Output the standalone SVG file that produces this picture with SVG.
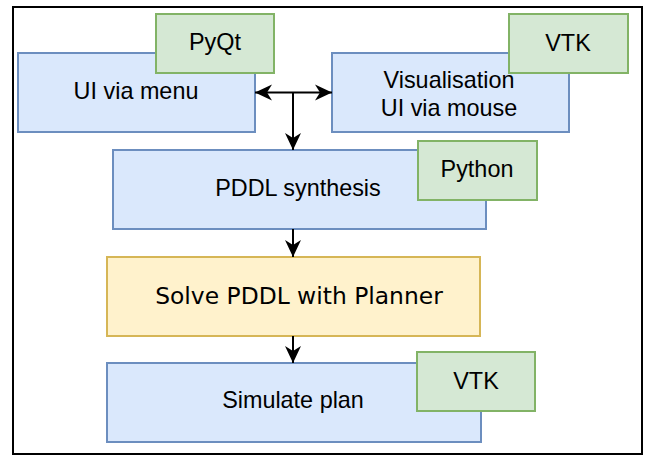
<svg xmlns="http://www.w3.org/2000/svg" width="646" height="456" viewBox="0 0 646 456">
<style>
.t{font-family:"Liberation Sans",Arial,sans-serif;font-size:23.4px;fill:#000;text-anchor:middle}
.d{font-family:"DejaVu Sans",Verdana,sans-serif;font-size:23.4px;fill:#000;text-anchor:middle}
.blue{fill:#dae8fc;stroke:#6c8ebf;stroke-width:2}
.green{fill:#d5e8d4;stroke:#82b366;stroke-width:2}
.yellow{fill:#fff2cc;stroke:#d6b656;stroke-width:2}
.edge{fill:none;stroke:#000;stroke-width:2}
</style>
<defs>
<marker id="arr" markerUnits="userSpaceOnUse" viewBox="-18 -9 19 18" refX="0" refY="0" markerWidth="19" markerHeight="18" orient="auto-start-reverse">
<path d="M0,0 L-17,-8 L-12,0 L-17,8 Z" fill="#000"/>
</marker>
</defs>
<rect x="13" y="7" width="629" height="447" fill="#fff" stroke="#000" stroke-width="2"/>
<g id="ui-menu"><rect class="blue" x="18" y="53" width="237" height="79"/><text class="t" x="136" y="99">UI via menu</text></g>
<g id="pyqt"><rect class="green" x="156" y="14" width="118" height="59"/><text class="t" x="215" y="50">PyQt</text></g>
<g id="vis"><rect class="blue" x="332" y="53" width="237" height="79"/><text class="t" x="449" y="88">Visualisation</text><text class="t" x="449" y="116">UI via mouse</text></g>
<g id="vtk1"><rect class="green" x="509" y="14" width="119" height="59"/><text class="t" x="568" y="51">VTK</text></g>
<g id="pddl"><rect class="blue" x="113" y="150" width="373" height="79"/><text class="t" x="298" y="196">PDDL synthesis</text></g>
<g id="python"><rect class="green" x="418" y="141" width="119" height="59"/><text class="t" x="477" y="177">Python</text></g>
<g id="solve"><rect class="yellow" x="107" y="257" width="373" height="79"/><text class="d" x="299" y="304">Solve PDDL with Planner</text></g>
<g id="sim"><rect class="blue" x="107" y="363" width="374" height="79"/><text class="t" x="293" y="408">Simulate plan</text></g>
<g id="vtk2"><rect class="green" x="417" y="352" width="118" height="59"/><text class="t" x="476" y="389">VTK</text></g>
<g id="connectors">
<path class="edge" d="M255,92.5 L332,92.5" marker-start="url(#arr)" marker-end="url(#arr)"/>
<path class="edge" d="M293,92.5 L293,150" marker-end="url(#arr)"/>
<path class="edge" d="M293,229 L293,257" marker-end="url(#arr)"/>
<path class="edge" d="M293,336 L293,363" marker-end="url(#arr)"/>
</g>
</svg>
